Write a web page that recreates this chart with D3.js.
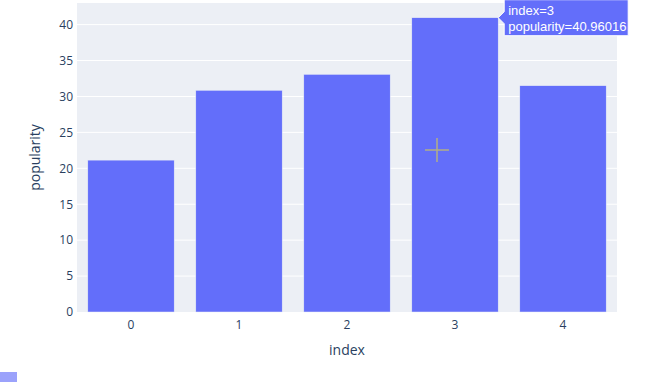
<!DOCTYPE html>
<html>
  <head>
    <script src="https://d3js.org/d3.v7.min.js"></script>
    <style>
      body { margin: 0; background: #fff; }
      text { font-family: "Open Sans", verdana, arial, sans-serif; }
    </style>
  </head>
  <body>
    <svg width="662" height="382"></svg>

    <script>
      // data
      var categories = ["0", "1", "2", "3", "4"];
      var popularity = [21.14, 30.86, 33.08, 40.96016, 31.5];
      var yTicks = [0, 5, 10, 15, 20, 25, 30, 35, 40];
      var hoverIndex = 3;

      var svg = d3.select("svg"),
        margin = { top: 3, right: 45, bottom: 70, left: 77 },
        width = +svg.attr("width") - margin.left - margin.right,
        height = +svg.attr("height") - margin.top - margin.bottom;

      var g = svg.append("g")
        .attr("transform", "translate(" + margin.left + "," + margin.top + ")");

      var xScale = d3.scaleBand()
        .domain(categories)
        .range([0, width])
        .paddingInner(0.2)
        .paddingOuter(0.1);

      var yScale = d3.scaleLinear()
        .domain([0, d3.max(popularity) * 1.05])
        .range([height, 0]);

      // plot background
      g.append("rect")
        .attr("width", width)
        .attr("height", height)
        .attr("fill", "#eceff5");

      // gridlines
      g.selectAll(".grid")
        .data(yTicks.filter(function (d) { return d > 0; }))
        .enter()
        .append("line")
        .attr("x1", 0)
        .attr("x2", width)
        .attr("y1", function (d) { return yScale(d); })
        .attr("y2", function (d) { return yScale(d); })
        .attr("stroke", "#fff")
        .attr("stroke-width", 1);

      // bars
      g.selectAll(".bar")
        .data(popularity)
        .enter()
        .append("rect")
        .attr("x", function (d, i) { return xScale(categories[i]); })
        .attr("y", function (d) { return yScale(d); })
        .attr("width", xScale.bandwidth())
        .attr("height", function (d) { return height - yScale(d); })
        .attr("fill", "#636efa")
        .attr("stroke", "#eceff5")
        .attr("stroke-width", 0.5);

      // axes
      var xAxis = g.append("g")
        .attr("transform", "translate(0," + height + ")")
        .call(d3.axisBottom(xScale).tickSize(0).tickPadding(8));
      xAxis.select(".domain").remove();
      xAxis.selectAll("text")
        .attr("fill", "#2a3f5f")
        .style("font-size", "12px");

      var yAxis = g.append("g")
        .call(d3.axisLeft(yScale).tickValues(yTicks).tickSize(0).tickPadding(4));
      yAxis.select(".domain").remove();
      yAxis.selectAll("text")
        .attr("fill", "#2a3f5f")
        .style("font-size", "12px");

      // axis titles
      svg.append("text")
        .attr("x", margin.left + width / 2)
        .attr("y", 355)
        .attr("text-anchor", "middle")
        .attr("fill", "#2a3f5f")
        .style("font-size", "14px")
        .text("index");

      svg.append("text")
        .attr("transform", "translate(40," + (margin.top + height / 2) + ") rotate(-90)")
        .attr("text-anchor", "middle")
        .attr("fill", "#2a3f5f")
        .style("font-size", "14px")
        .text("popularity");

      // crosshair cursor
      var cx = 437, cy = 150;
      svg.append("path")
        .attr("d", "M" + (cx - 12) + "," + cy + "H" + (cx + 12) + "M" + cx + "," + (cy - 12) + "V" + (cy + 12))
        .attr("stroke", "#b3ae86")
        .attr("stroke-width", 1.5)
        .attr("fill", "none");

      // hover label
      var hx = margin.left + xScale(categories[hoverIndex]) + xScale.bandwidth(),
        hy = margin.top + yScale(popularity[hoverIndex]);
      var hover = svg.append("g").attr("transform", "translate(" + hx + "," + hy + ")");
      hover.append("path")
        .attr("d", "M0,0L6,-6V-18H130V18H6V6Z")
        .attr("fill", "#636efa")
        .attr("stroke", "#fff")
        .attr("stroke-width", 1);
      hover.append("text")
        .attr("x", 10)
        .attr("y", -3)
        .attr("fill", "#fff")
        .style("font-family", "Arial, 'Liberation Sans', sans-serif")
        .style("font-size", "13px")
        .text("index=" + categories[hoverIndex]);
      hover.append("text")
        .attr("x", 10)
        .attr("y", 13)
        .attr("fill", "#fff")
        .style("font-family", "Arial, 'Liberation Sans', sans-serif")
        .style("font-size", "13px")
        .text("popularity=" + popularity[hoverIndex]);

      // partial legend swatch at bottom left
      svg.append("rect")
        .attr("x", 0)
        .attr("y", 372)
        .attr("width", 17)
        .attr("height", 10)
        .attr("fill", "#9ba2fb");
    </script>
  </body>
</html>
